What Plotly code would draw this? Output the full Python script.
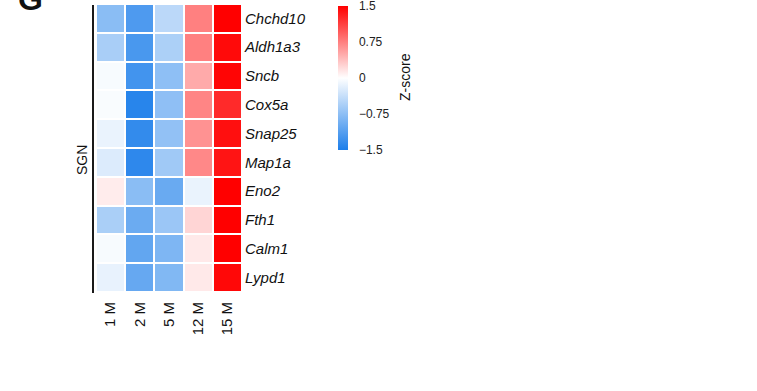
import plotly.graph_objects as go

# Ageing time points and SGN genes
timepoints = ["1 M", "2 M", "5 M", "12 M", "15 M"]
genes = ["Chchd10", "Aldh1a3", "Sncb", "Cox5a", "Snap25",
         "Map1a", "Eno2", "Fth1", "Calm1", "Lypd1"]

# Row-wise z-scores of expression (one row per gene, columns follow timepoints)
z_chchd10 = [-0.77, -1.17, -0.45, 0.75, 1.50]
z_aldh1a3 = [-0.57, -1.20, -0.55, 0.75, 1.44]
z_sncb = [-0.05, -1.25, -0.75, 0.50, 1.47]
z_cox5a = [-0.04, -1.42, -0.74, 0.72, 1.25]
z_snap25 = [-0.14, -1.35, -0.72, 0.64, 1.41]
z_map1a = [-0.23, -1.38, -0.63, 0.70, 1.38]
z_eno2 = [0.11, -0.77, -0.99, -0.14, 1.60]
z_fth1 = [-0.56, -0.98, -0.66, 0.25, 1.60]
z_calm1 = [-0.05, -1.04, -0.85, 0.13, 1.60]
z_lypd1 = [-0.15, -1.01, -0.83, 0.13, 1.45]

z = [z_chchd10, z_aldh1a3, z_sncb, z_cox5a, z_snap25,
     z_map1a, z_eno2, z_fth1, z_calm1, z_lypd1]

cbar_ticks = [-1.5, -0.75, 0, 0.75, 1.5]
cbar_labels = ["\u22121.5", "\u22120.75", "0", "0.75", "1.5"]

W, H = 757, 391
FONT = "Liberation Sans, Arial, sans-serif"

def px_x(p):
    return p / W

def px_y(p):
    return (H - p) / H

fig = go.Figure(
    go.Heatmap(
        z=z,
        x=timepoints,
        y=genes,
        zmin=-1.5,
        zmax=1.5,
        colorscale=[[0.0, "rgb(28,126,234)"], [0.5, "rgb(255,255,255)"], [1.0, "rgb(255,0,0)"]],
        xgap=2,
        ygap=2,
        colorbar=dict(
            x=px_x(338),
            xanchor="left",
            y=px_y(6),
            yanchor="top",
            len=144,
            lenmode="pixels",
            thickness=10,
            thicknessmode="pixels",
            outlinewidth=0,
            tickmode="array",
            tickvals=cbar_ticks,
            ticktext=cbar_labels,
            ticks="outside",
            ticklen=9,
            tickcolor="rgba(0,0,0,0)",
            ticklabeloverflow="allow",
            tickfont=dict(family=FONT, size=12, color="#222"),
            xpad=0,
            ypad=0,
        ),
        hovertemplate="%{y} %{x}: %{z}<extra></extra>",
    )
)

fig.update_layout(
    width=W,
    height=H,
    margin=dict(l=0, r=0, t=0, b=0),
    paper_bgcolor="white",
    plot_bgcolor="white",
    font=dict(family=FONT, color="#111"),
    xaxis=dict(
        domain=[px_x(96), px_x(242)],
        tickangle=-90,
        ticks="",
        showgrid=False,
        zeroline=False,
        tickfont=dict(family=FONT, size=15, color="#111"),
        ticklabelstandoff=6,
    ),
    yaxis=dict(
        domain=[px_y(292), px_y(4)],
        side="right",
        autorange="reversed",
        ticks="",
        showgrid=False,
        zeroline=False,
        tickfont=dict(family=FONT, size=15, color="#111", style="italic"),
        ticklabelstandoff=2,
    ),
    shapes=[
        dict(type="line", xref="paper", yref="paper",
             x0=px_x(93), x1=px_x(93), y0=px_y(5), y1=px_y(293),
             line=dict(color="#1a1a1a", width=2)),
    ],
    annotations=[
        dict(text="SGN", textangle=-90, xref="paper", yref="paper",
             x=px_x(82), y=px_y(160), xanchor="center", yanchor="middle",
             showarrow=False,
             font=dict(family=FONT, size=14, color="#111")),
        dict(text="Z-score", textangle=-90, xref="paper", yref="paper",
             x=px_x(405), y=px_y(77), xanchor="center", yanchor="middle",
             showarrow=False,
             font=dict(family=FONT, size=14, color="#111")),
        dict(text="<b>G</b>", xref="paper", yref="paper",
             x=px_x(30), y=px_y(19), xanchor="center", yanchor="bottom",
             showarrow=False,
             font=dict(family=FONT, size=32, color="#111")),
    ],
)

fig.write_html("out.html")
